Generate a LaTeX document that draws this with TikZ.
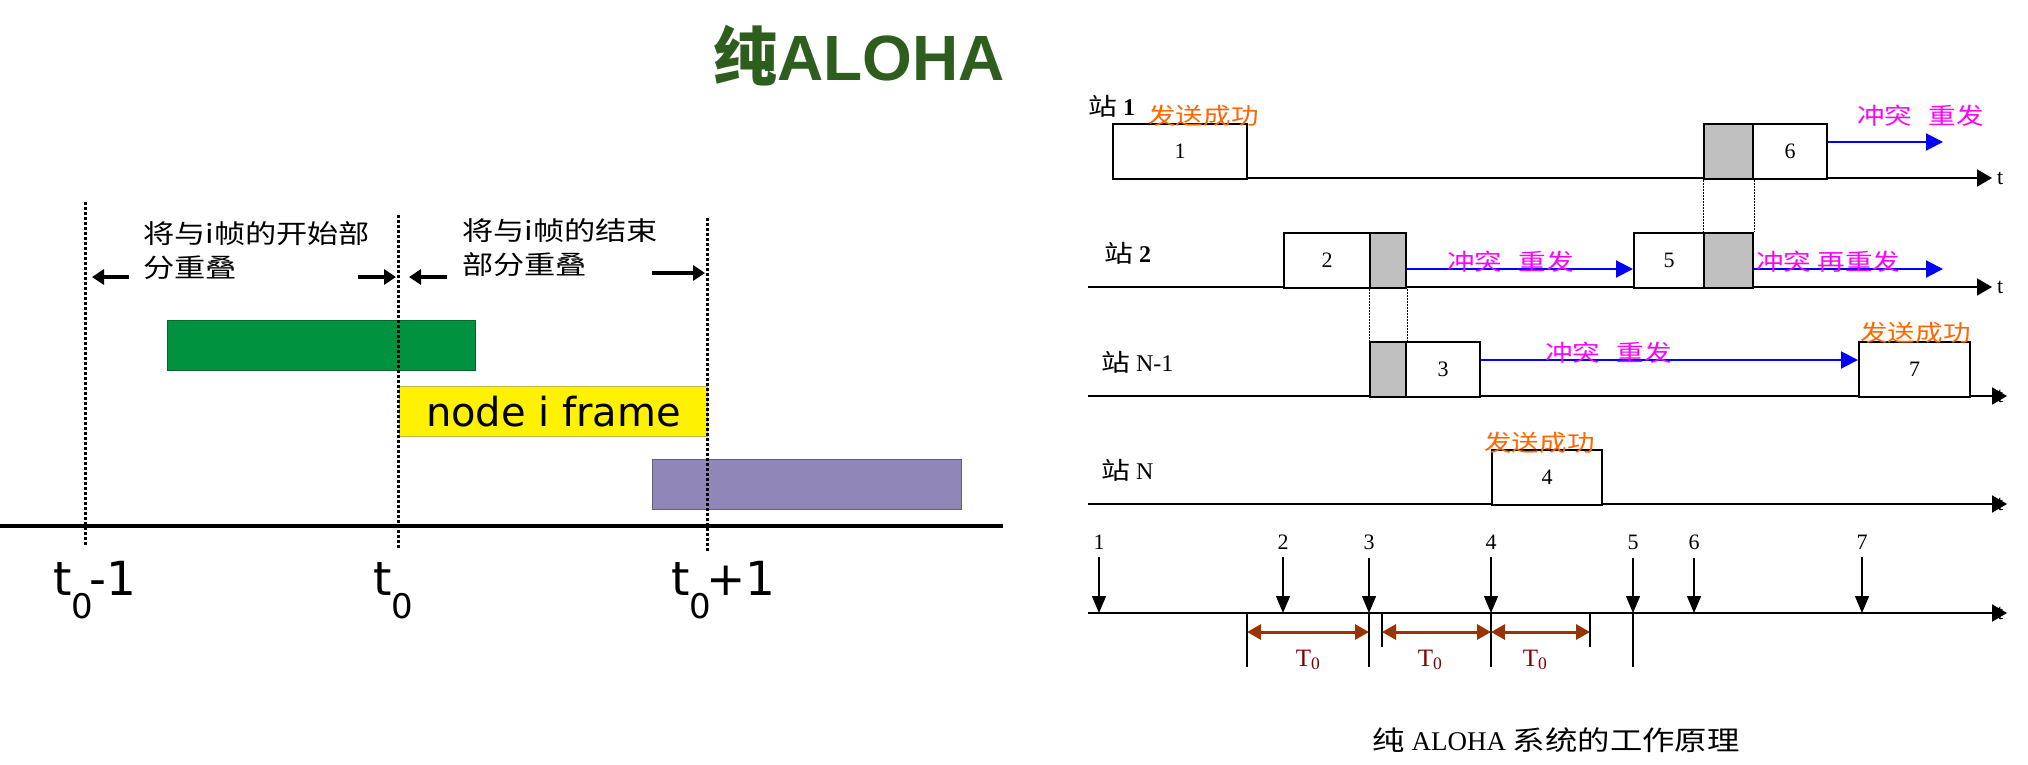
\documentclass[tikz,border=0pt]{standalone}
\usepackage{fontspec}
\setmainfont{Liberation Serif}
\newfontfamily\cjk{Noto Sans CJK SC}[FakeStretch=1.2]
\newfontfamily\cjktitle{Noto Sans CJK SC}
\newfontfamily\sanstitle{Liberation Sans}
\newfontfamily\dejavu{DejaVu Sans}
\usetikzlibrary{arrows.meta,positioning}

\definecolor{titlegreen}{RGB}{46,94,30}
\definecolor{earlygreen}{RGB}{0,146,63}
\definecolor{latepurple}{RGB}{144,134,184}
\definecolor{okorange}{RGB}{255,102,0}
\definecolor{hitmagenta}{RGB}{255,0,255}
\definecolor{resendblue}{RGB}{0,0,255}
\definecolor{hitgray}{RGB}{192,192,192}
\definecolor{slotbrown}{RGB}{153,51,0}
\definecolor{slotred}{RGB}{128,0,0}

\newcommand\lowsub[1]{\raisebox{-23pt}{\fontsize{34}{34}\selectfont #1}}

\begin{document}
\begin{tikzpicture}[x=1pt,y=-1pt,
  every node/.style={inner sep=0pt},
  vuln/.style={line width=3pt,dash pattern=on 3pt off 2pt},
  pointer/.style={line width=4pt,-{Triangle[length=12pt,width=15pt]}},
  bar/.style={anchor=north west,minimum height=50pt,line width=1pt},
  frame/.style={draw,line width=2pt,fill=white,anchor=north west,minimum height=55pt,
    font=\fontsize{22}{22}\selectfont},
  hit/.style={frame,fill=hitgray},
  axis/.style={line width=2pt,-{Triangle[length=15pt,width=17pt]}},
  resend/.style={draw=resendblue,line width=2pt,-{Triangle[length=17pt,width=17pt]}},
  overlap/.style={line width=1pt,dash pattern=on 1.5pt off 1.5pt},
  arrival/.style={line width=1.3pt,-{Triangle[length=17pt,width=14pt]}},
  window/.style={draw=slotbrown,line width=3pt,
    {Triangle[length=14pt,width=15pt]}-{Triangle[length=14pt,width=15pt]}},
  tlabel/.style={anchor=base west,font=\dejavu\fontsize{47}{47}\selectfont},
  note/.style={anchor=base west,align=left,font=\cjk\fontsize{26}{34}\selectfont},
  okmark/.style={anchor=west,text=okorange,font=\cjk\fontsize{23}{23}\selectfont},
  hitmark/.style={anchor=west,text=hitmagenta,font=\cjk\fontsize{23}{23}\selectfont},
  station/.style={anchor=west,font=\fontsize{24}{24}\selectfont}]
\useasboundingbox (0,0) rectangle (2028,764);

% ===== left: vulnerable period of a frame =====
\node[anchor=base west,text=titlegreen,font=\bfseries\fontsize{64}{64}\selectfont]
  (title) at (713,80) {{\cjktitle 纯}{\sanstitle ALOHA}};

% base anchor sits on the last line
\node[note] (early) at (143,277) {将与i帧的开始部\\分重叠};
\node[note] (late) at (462,274) {将与i帧的结束\\部分重叠};

% frames on the channel
\node[bar,fill=earlygreen,draw=earlygreen!70!black,minimum width=308pt] (prev) at (167,320) {};
\node[bar,fill=yellow,draw=olive!60,minimum width=308pt,
  font=\dejavu\fontsize{40}{40}\selectfont] (cur) at (399,386) {node i frame};
\node[bar,fill=latepurple,draw=latepurple!70!black,minimum width=309pt] (next) at (652,459) {};

\draw[line width=4pt] (0,526) -- (1003,526);

% time marks
\draw[vuln] (85,202) -- (85,545);
\draw[vuln] (398,215) -- (398,548);
\draw[vuln] (707,218) -- (707,552);

\draw[pointer] (129,277) -- (92,277);
\draw[pointer] (358,277) -- (396,277);
\draw[pointer] (447,277) -- (409,277);
\draw[pointer] (652,273) -- (705,273);

\node[tlabel] (tprev) at (53,595) {t\lowsub{0}\kern-4pt-1};
\node[tlabel] (tnow) at (373,595) {t\lowsub{0}};
\node[tlabel] (tnext) at (671,595) {t\lowsub{0}\kern-5pt+1};

% ===== right: stations =====
\node[station] (st1) at (1088,106) {{\cjk 站} \textbf{1}};
\node[station] (st2) at (1104,253) {{\cjk 站} \textbf{2}};
\node[station] (st3) at (1101,362) {{\cjk 站} N-1};
\node[station] (st4) at (1101,470) {{\cjk 站} N};

% time axes
\foreach \n/\y/\a/\b in {1/178/1112/1992,2/287/1088/1992,3/396/1088/2007,4/504/1088/2007,5/613/1088/2007} {
  \node[anchor=west,font=\fontsize{22}{22}\selectfont] (t\n) at (1997,\y) {t};
  \draw[axis] (\a,\y) -- (\b,\y);
}

% station 1
\node[frame,minimum width=134pt] (f1) at (1112,123) {1};
\node[hit,minimum width=49pt] (c6) at (1703,123) {};
\node[frame,minimum width=74pt] (f6) at (1752,123) {6};
% station 2
\node[frame,minimum width=86pt] (f2) at (1283,232) {2};
\node[hit,minimum width=36pt] (c2) at (1369,232) {};
\node[frame,minimum width=70pt] (f5) at (1633,232) {5};
\node[hit,minimum width=49pt] (c5) at (1703,232) {};
% station N-1
\node[hit,minimum width=36pt] (c3) at (1369,341) {};
\node[frame,minimum width=74pt] (f3) at (1405,341) {3};
\node[frame,minimum width=111pt] (f7) at (1858,341) {7};
% station N
\node[frame,minimum width=110pt] (f4) at (1491,449) {4};

% overlapping parts
\draw[overlap] (c6.south west) -- (c5.north west);
\draw[overlap] (c6.south east) -- (c5.north east);
\draw[overlap] (c2.south west) -- (c3.north west);
\draw[overlap] (c2.south east) -- (c3.north east);

% retransmissions
\coordinate (r1) at (1943,142);
\coordinate (r2) at (0,269);
\coordinate (r5) at (1943,269);
\coordinate (r3) at (0,360);
\draw[resend] (f6.east |- r1) -- (r1);
\draw[resend] (c2.east |- r2) -- (f5.west |- r2);
\draw[resend] (c5.east |- r5) -- (r5);
\draw[resend] (f3.east |- r3) -- (f7.west |- r3);

\node[okmark] (ok1) at (1148,116) {发送成功};
\node[okmark] (ok7) at (1860,333) {发送成功};
\node[okmark] (ok4) at (1484,443) {发送成功};
\node[hitmark] (hit6) at (1857,116) {冲突\hspace{16pt}重发};
\node[hitmark] (hit2) at (1447,262) {冲突\hspace{16pt}重发};
\node[hitmark] (hit5) at (1756,262) {冲突\hspace{6pt}再重发};
\node[hitmark] (hit3) at (1545,353) {冲突\hspace{16pt}重发};

% arrival instants
\coordinate (tl) at (0,613);
\foreach \i/\x in {1/1099,2/1283,3/1369,4/1491,5/1633,6/1694,7/1862} {
  \node[font=\fontsize{22}{22}\selectfont] (n\i) at (\x,542) {\i};
  \draw[arrival] ([yshift=-8pt]n\i.south) -- (n\i.south |- tl);
}
\foreach \x/\l in {1247/54,1369/54,1382/34,1491/54,1590/34,1633/54}
  \draw[line width=1.2pt] (\x,613) -- ++(0,\l);

% frame time T0
\draw[window] (1247,632) -- (1369,632);
\draw[window] (1382,632) -- (1491,632);
\draw[window] (1491,632) -- (1590,632);
\foreach \n/\x in {1/1308,2/1430,3/1535}
  \node[text=slotred,font=\fontsize{25}{25}\selectfont] (T\n) at (\x,660) {T\textsubscript{0}};

\node[font=\fontsize{27}{27}\selectfont] (caption) at (1556,740) {{\cjk 纯} ALOHA {\cjk 系统的工作原理}};
\end{tikzpicture}
\end{document}
